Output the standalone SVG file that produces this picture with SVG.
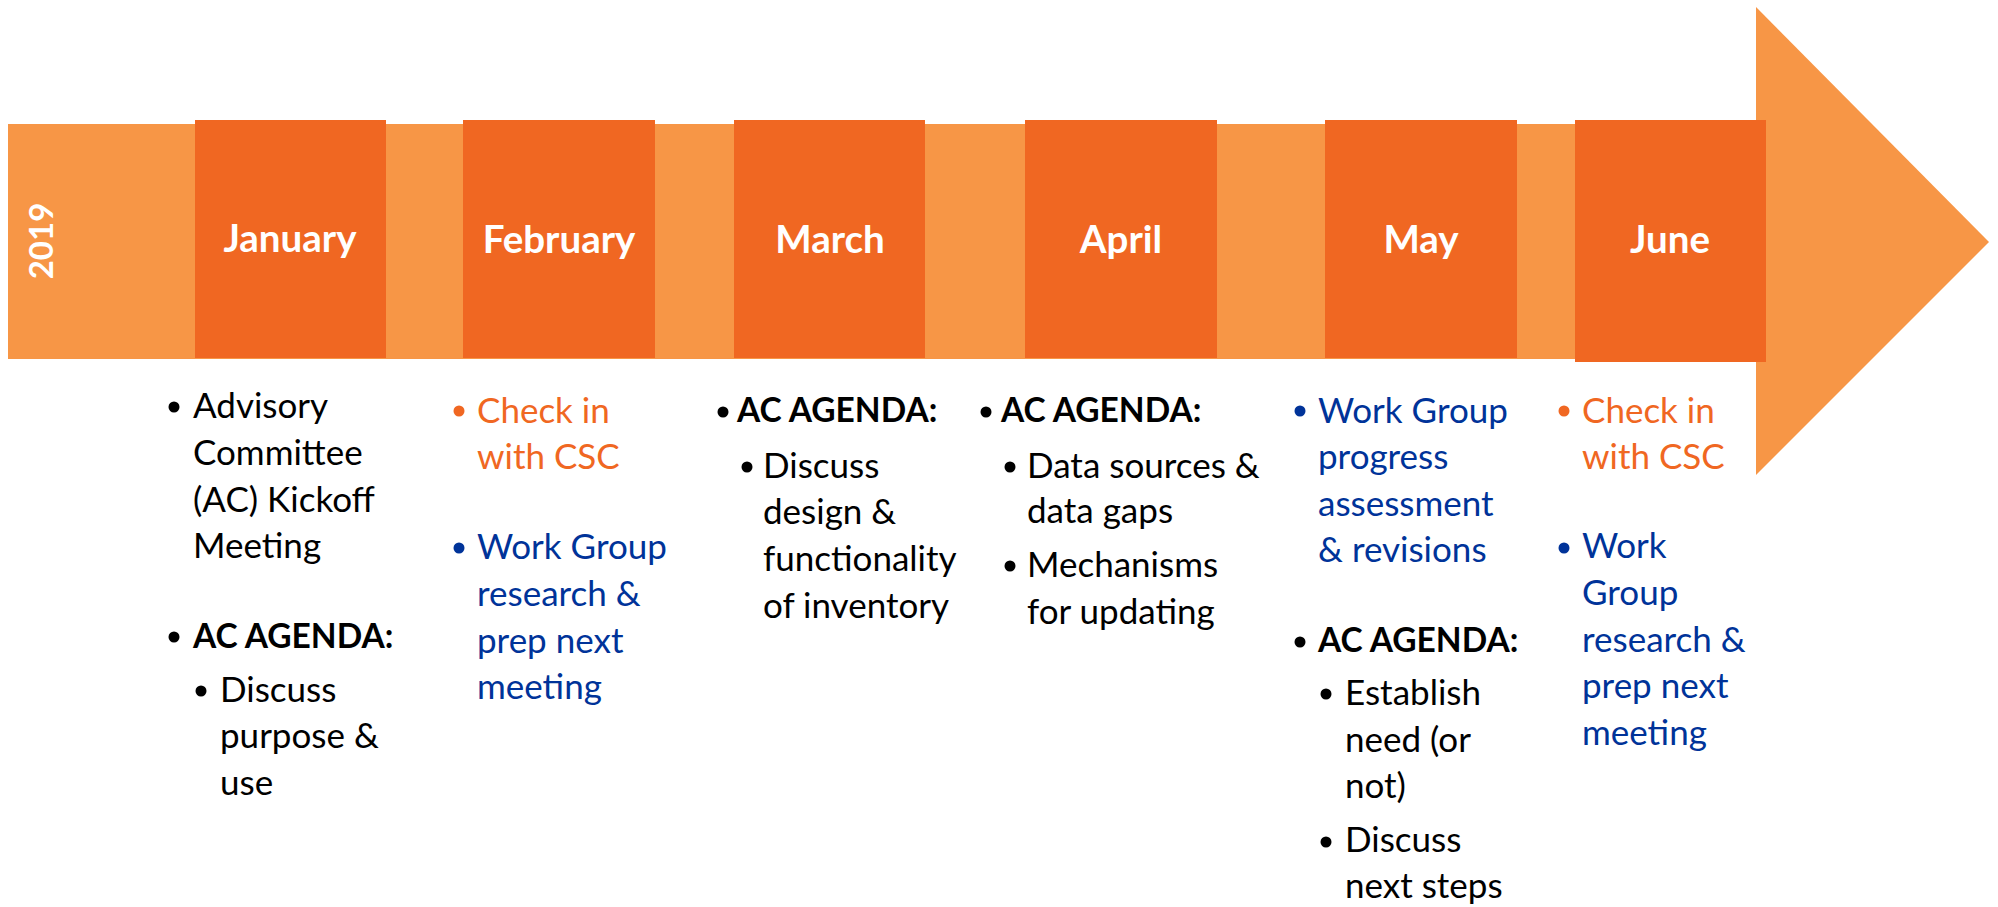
<svg xmlns="http://www.w3.org/2000/svg" width="1998" height="907" viewBox="0 0 1998 907">
<style>
.band{fill:#F79646}
.box{fill:#F06722}
.mon{font-family:Lato,"Open Sans",sans-serif;font-weight:700;font-size:38.5px;fill:#FFFFFF;text-anchor:middle}
.t{font-family:Lato,"Open Sans",sans-serif;font-size:35px;fill:#000000}
.b{font-weight:700;font-size:33.5px}
.or{fill:#F06722}
.bl{fill:#003399}
.dk{fill:#000000}
</style>
<rect width="1998" height="907" fill="#FFFFFF"/>
<g id="arrow">
<rect class="band" x="8" y="124" width="1750" height="235"/>
<polygon class="band" points="1756,7 1989,242 1756,475"/>
<text x="53" y="241" transform="rotate(-90 53 241)" class="mon" style="font-size:33px">2019</text>
</g>
<g id="january">
<rect class="box" x="195" y="120" width="191" height="238"/>
<text class="mon" x="290" y="252">January</text>
<circle class="dk" cx="174" cy="407" r="5.5"/>
<text class="t" x="193" y="418"><tspan x="193">Advisory</tspan><tspan x="193" dy="47">Committee</tspan><tspan x="193" dy="47">(AC) Kickoff</tspan><tspan x="193" dy="46">Meeting</tspan></text>
<circle class="dk" cx="174" cy="637" r="5.5"/>
<text class="t b" x="193" y="648">AC AGENDA:</text>
<circle class="dk" cx="201" cy="691" r="5.5"/>
<text class="t" x="220" y="702"><tspan x="220">Discuss</tspan><tspan x="220" dy="46">purpose &amp;</tspan><tspan x="220" dy="47">use</tspan></text>
</g>
<g id="february">
<rect class="box" x="463" y="120" width="192" height="238"/>
<text class="mon" x="559" y="253">February</text>
<circle class="or" cx="459" cy="411" r="5.5"/>
<text class="t or" x="477" y="423"><tspan x="477">Check in</tspan><tspan x="477" dy="46">with CSC</tspan></text>
<circle class="bl" cx="459" cy="548" r="5.5"/>
<text class="t bl" x="477" y="559"><tspan x="477">Work Group</tspan><tspan x="477" dy="47">research &amp;</tspan><tspan x="477" dy="47">prep next</tspan><tspan x="477" dy="46">meeting</tspan></text>
</g>
<g id="march">
<rect class="box" x="734" y="120" width="191" height="238"/>
<text class="mon" x="830" y="253">March</text>
<circle class="dk" cx="723" cy="412" r="5.5"/>
<text class="t b" x="737" y="422">AC AGENDA:</text>
<circle class="dk" cx="747" cy="467" r="5.5"/>
<text class="t" x="763" y="478"><tspan x="763">Discuss</tspan><tspan x="763" dy="46">design &amp;</tspan><tspan x="763" dy="47">functionality</tspan><tspan x="763" dy="47">of inventory</tspan></text>
</g>
<g id="april">
<rect class="box" x="1025" y="120" width="192" height="238"/>
<text class="mon" x="1121" y="253">April</text>
<circle class="dk" cx="986" cy="412" r="5.5"/>
<text class="t b" x="1001" y="422">AC AGENDA:</text>
<circle class="dk" cx="1010" cy="467" r="5.5"/>
<text class="t" x="1027" y="478"><tspan x="1027">Data sources &amp;</tspan><tspan x="1027" dy="45">data gaps</tspan></text>
<circle class="dk" cx="1010" cy="566" r="5.5"/>
<text class="t" x="1027" y="577"><tspan x="1027">Mechanisms</tspan><tspan x="1027" dy="47">for updating</tspan></text>
</g>
<g id="may">
<rect class="box" x="1325" y="120" width="192" height="238"/>
<text class="mon" x="1421" y="253">May</text>
<circle class="bl" cx="1300" cy="411" r="5.5"/>
<text class="t bl" x="1318" y="423"><tspan x="1318">Work Group</tspan><tspan x="1318" dy="46">progress</tspan><tspan x="1318" dy="47">assessment</tspan><tspan x="1318" dy="46">&amp; revisions</tspan></text>
<circle class="dk" cx="1300" cy="642" r="5.5"/>
<text class="t b" x="1318" y="652">AC AGENDA:</text>
<circle class="dk" cx="1326" cy="694" r="5.5"/>
<text class="t" x="1345" y="705"><tspan x="1345">Establish</tspan><tspan x="1345" dy="47">need (or</tspan><tspan x="1345" dy="46">not)</tspan></text>
<circle class="dk" cx="1326" cy="842" r="5.5"/>
<text class="t" x="1345" y="852"><tspan x="1345">Discuss</tspan><tspan x="1345" dy="46">next steps</tspan></text>
</g>
<g id="june">
<rect class="box" x="1575" y="120" width="191" height="242"/>
<text class="mon" x="1670" y="253">June</text>
<circle class="or" cx="1564" cy="411" r="5.5"/>
<text class="t or" x="1582" y="423"><tspan x="1582">Check in</tspan><tspan x="1582" dy="46">with CSC</tspan></text>
<circle class="bl" cx="1564" cy="548" r="5.5"/>
<text class="t bl" x="1582" y="558"><tspan x="1582">Work</tspan><tspan x="1582" dy="47">Group</tspan><tspan x="1582" dy="47">research &amp;</tspan><tspan x="1582" dy="46">prep next</tspan><tspan x="1582" dy="47">meeting</tspan></text>
</g>
<g id="connectors"></g>
</svg>
